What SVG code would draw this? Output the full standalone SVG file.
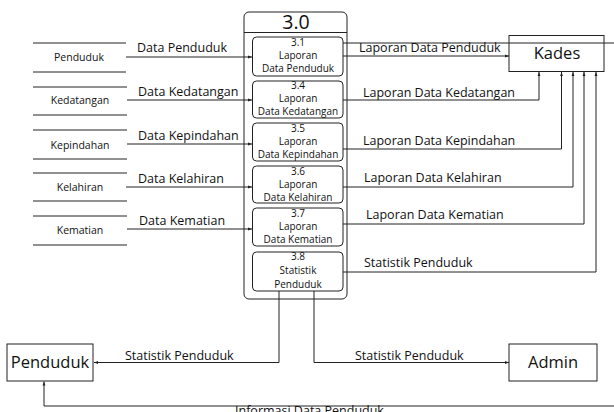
<svg xmlns="http://www.w3.org/2000/svg" width="614" height="412" viewBox="0 0 614 412">
<style>
text{font-family:"Open Sans","Noto Sans","Liberation Sans",sans-serif;fill:#111}
.lbl{font-size:12.5px}
.in{font-size:10px;text-anchor:middle}
.st{font-size:10.5px;text-anchor:middle}
.big{font-size:16.5px;text-anchor:middle}
.ln{fill:none;stroke:#222;stroke-width:1}
.box{fill:#fff;stroke:#222;stroke-width:1}
.c{fill:none;stroke:#222;stroke-width:1}
</style>
<defs>
<marker id="a" markerUnits="userSpaceOnUse" markerWidth="4" markerHeight="4" refX="4" refY="2" orient="auto">
<path d="M0,0.6 L4,2 L0,3.4 Z" fill="#222"/>
</marker>
</defs>
<rect x="0" y="0" width="614" height="412" fill="#fff"/>

<g id="process-3-0">
<rect class="box" x="244" y="12" width="103" height="287" rx="5"/>
<line class="ln" x1="244" y1="32.5" x2="347" y2="32.5"/>
<text x="296" y="29" style="font-size:19.5px;text-anchor:middle">3.0</text>
</g>
<g id="p31">
<rect class="box" x="252.5" y="37" width="90.5" height="39" rx="4"/>
<text class="in" x="298" y="45.5">3.1</text>
<text class="in" x="298" y="59">Laporan</text>
<text class="in" x="298" y="72">Data Penduduk</text>
</g>
<g id="p34">
<rect class="box" x="252.5" y="81" width="90.5" height="37" rx="4"/>
<text class="in" x="298" y="89">3.4</text>
<text class="in" x="298" y="101.5">Laporan</text>
<text class="in" x="298" y="114.5">Data Kedatangan</text>
</g>
<g id="p35">
<rect class="box" x="252.5" y="123" width="90.5" height="38" rx="4"/>
<text class="in" x="298" y="131.5">3.5</text>
<text class="in" x="298" y="145">Laporan</text>
<text class="in" x="298" y="158">Data Kepindahan</text>
</g>
<g id="p36">
<rect class="box" x="252.5" y="166" width="90.5" height="37" rx="4"/>
<text class="in" x="298" y="174.5">3.6</text>
<text class="in" x="298" y="187.5">Laporan</text>
<text class="in" x="298" y="200.5">Data Kelahiran</text>
</g>
<g id="p37">
<rect class="box" x="252.5" y="208" width="90.5" height="38" rx="4"/>
<text class="in" x="298" y="216.5">3.7</text>
<text class="in" x="298" y="229.5">Laporan</text>
<text class="in" x="298" y="242.5">Data Kematian</text>
</g>
<g id="p38">
<rect class="box" x="252.5" y="252" width="90.5" height="39" rx="4"/>
<text class="in" x="298" y="260">3.8</text>
<text class="in" x="298" y="274">Statistik</text>
<text class="in" x="298" y="287.5">Penduduk</text>
</g>

<g id="ds-penduduk">
<line class="ln" x1="33" y1="43" x2="126" y2="43"/>
<line class="ln" x1="33" y1="72" x2="126" y2="72"/>
<text class="st" x="79" y="61">Penduduk</text>
</g>
<g id="ds-kedatangan">
<line class="ln" x1="33" y1="87" x2="127" y2="87"/>
<line class="ln" x1="33" y1="115" x2="127" y2="115"/>
<text class="st" x="80" y="104">Kedatangan</text>
</g>
<g id="ds-kepindahan">
<line class="ln" x1="33" y1="130" x2="127" y2="130"/>
<line class="ln" x1="33" y1="159" x2="127" y2="159"/>
<text class="st" x="80" y="148.5">Kepindahan</text>
</g>
<g id="ds-kelahiran">
<line class="ln" x1="33" y1="173" x2="127" y2="173"/>
<line class="ln" x1="33" y1="201" x2="127" y2="201"/>
<text class="st" x="80" y="191">Kelahiran</text>
</g>
<g id="ds-kematian">
<line class="ln" x1="33" y1="216" x2="127" y2="216"/>
<line class="ln" x1="33" y1="245" x2="127" y2="245"/>
<text class="st" x="80" y="233.5">Kematian</text>
</g>

<g id="kades">
<rect class="box" x="509" y="35.5" width="95" height="36"/>
<text class="big" x="557" y="59">Kades</text>
</g>
<g id="penduduk">
<rect class="box" x="7" y="344" width="86" height="37"/>
<text class="big" x="50" y="367.5">Penduduk</text>
</g>
<g id="admin">
<rect class="box" x="509" y="344" width="88" height="37"/>
<text class="big" x="553" y="367.5">Admin</text>
</g>

<g id="connectors">
<path class="c" d="M126,57 H252" marker-end="url(#a)"/>
<path class="c" d="M127,100 H252" marker-end="url(#a)"/>
<path class="c" d="M127,144 H252" marker-end="url(#a)"/>
<path class="c" d="M126,187 H252" marker-end="url(#a)"/>
<path class="c" d="M127,229 H252" marker-end="url(#a)"/>
<path class="c" d="M343,43 H614"/>
<path class="c" d="M343,56 H509" marker-end="url(#a)"/>
<path class="c" d="M343,100 H539 V72" marker-end="url(#a)"/>
<path class="c" d="M343,149 H561.5 V72" marker-end="url(#a)"/>
<path class="c" d="M343,187 H573 V72" marker-end="url(#a)"/>
<path class="c" d="M343,224 H584 V72" marker-end="url(#a)"/>
<path class="c" d="M343,272 H596 V72" marker-end="url(#a)"/>
<path class="c" d="M279,291 V362.5 H94" marker-end="url(#a)"/>
<path class="c" d="M314,291 V362.5 H509" marker-end="url(#a)"/>
<path class="c" d="M614,406 H44 V381.5" marker-end="url(#a)"/>
</g>

<g id="labels">
<text class="lbl" x="137" y="52">Data Penduduk</text>
<text class="lbl" x="138" y="96">Data Kedatangan</text>
<text class="lbl" x="138" y="139.5">Data Kepindahan</text>
<text class="lbl" x="138" y="182.5">Data Kelahiran</text>
<text class="lbl" x="139" y="225">Data Kematian</text>
<text class="lbl" x="359" y="52">Laporan Data Penduduk</text>
<text class="lbl" x="363" y="97">Laporan Data Kedatangan</text>
<text class="lbl" x="363" y="145">Laporan Data Kepindahan</text>
<text class="lbl" x="364" y="182">Laporan Data Kelahiran</text>
<text class="lbl" x="366" y="219">Laporan Data Kematian</text>
<text class="lbl" x="364" y="267">Statistik Penduduk</text>
<text class="lbl" x="125" y="359.5">Statistik Penduduk</text>
<text class="lbl" x="355" y="359.5">Statistik Penduduk</text>
<text class="lbl" x="235" y="414.5">Informasi Data Penduduk</text>
</g>
</svg>
